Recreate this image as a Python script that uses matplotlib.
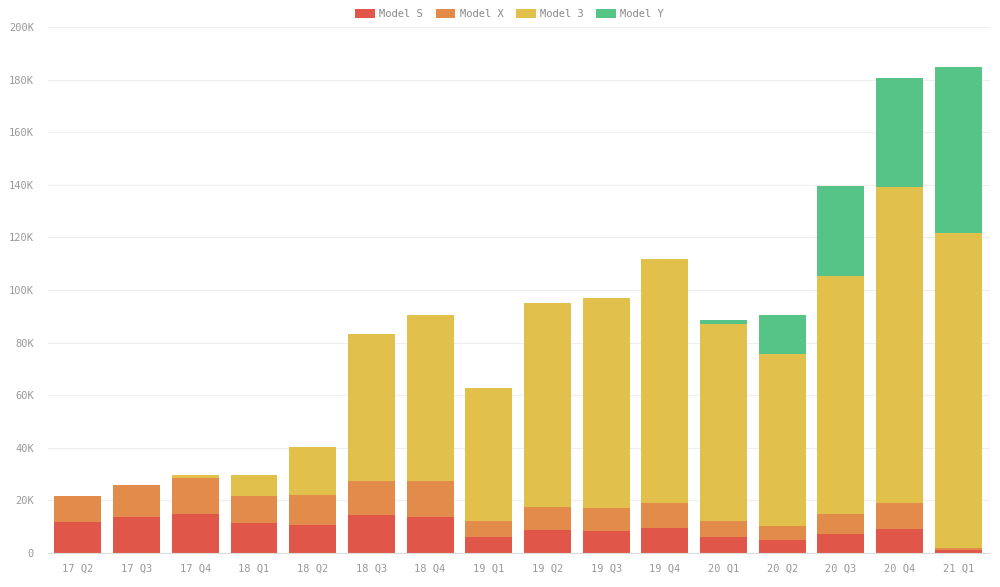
import matplotlib
matplotlib.use("Agg")
import matplotlib.pyplot as plt
import numpy as np

quarters = ["17 Q2", "17 Q3", "17 Q4", "18 Q1", "18 Q2", "18 Q3", "18 Q4", "19 Q1",
            "19 Q2", "19 Q3", "19 Q4", "20 Q1", "20 Q2", "20 Q3", "20 Q4", "21 Q1"]
model_s = [11.8, 13.7, 15.0, 11.5, 10.7, 14.3, 13.5, 6.0, 8.8, 8.5, 9.4, 5.9, 5.0, 7.3, 9.1, 1.1]
model_x = [10.0, 12.3, 13.5, 10.0, 11.3, 12.9, 13.9, 6.0, 8.8, 8.7, 9.7, 6.1, 5.4, 7.7, 9.8, 0.9]
model_3 = [0.0, 0.0, 1.0, 8.3, 18.4, 56.1, 63.1, 50.8, 77.5, 79.9, 92.8, 75.2, 65.1, 90.3, 120.3, 119.8]
model_y = [0.0, 0.0, 0.0, 0.0, 0.0, 0.0, 0.0, 0.0, 0.0, 0.0, 0.0, 1.2, 15.0, 34.2, 41.4, 63.0]

series = [("Model S", model_s, "#e0574a"),
          ("Model X", model_x, "#e38b4a"),
          ("Model 3", model_3, "#e2c04c"),
          ("Model Y", model_y, "#57c487")]

plt.rcParams['font.family'] = ['DejaVu Sans Mono']
fig = plt.figure(figsize=(10, 5.87), dpi=100)
ax = fig.add_axes([0.048, 0.058, 0.942, 0.896])

x = np.arange(len(quarters))
bottom = np.zeros(len(quarters))
for name, vals, col in series:
    v = np.array(vals) * 1000
    ax.bar(x, v, width=0.8, bottom=bottom, color=col, label=name, zorder=2)
    bottom += v

ax.set_xlim(-0.51, 15.54)
ax.set_ylim(0, 200000)
ax.set_yticks(np.arange(0, 200001, 20000))
ax.set_yticklabels(["0"] + [f"{int(t/1000)}K" for t in range(20000, 200001, 20000)])
ax.set_xticks(x)
ax.set_xticklabels(quarters)
ax.tick_params(axis='both', length=0, labelsize=7.5, colors="#999999")
ax.tick_params(axis='x', pad=8)
ax.tick_params(axis='y', pad=10)
ax.grid(axis='y', color="#eeeeee", linewidth=0.8, zorder=0)
for s in ["top", "right", "left"]:
    ax.spines[s].set_visible(False)
ax.spines["bottom"].set_color("#dddddd")

leg = ax.legend(loc="upper center", bbox_to_anchor=(0.49, 1.052), ncol=4, frameon=False,
                fontsize=7.5, handlelength=1.9, handleheight=0.9, columnspacing=1.2,
                handletextpad=0.4)
for t in leg.get_texts():
    t.set_color("#888888")

fig.savefig("out.png", dpi=100)
